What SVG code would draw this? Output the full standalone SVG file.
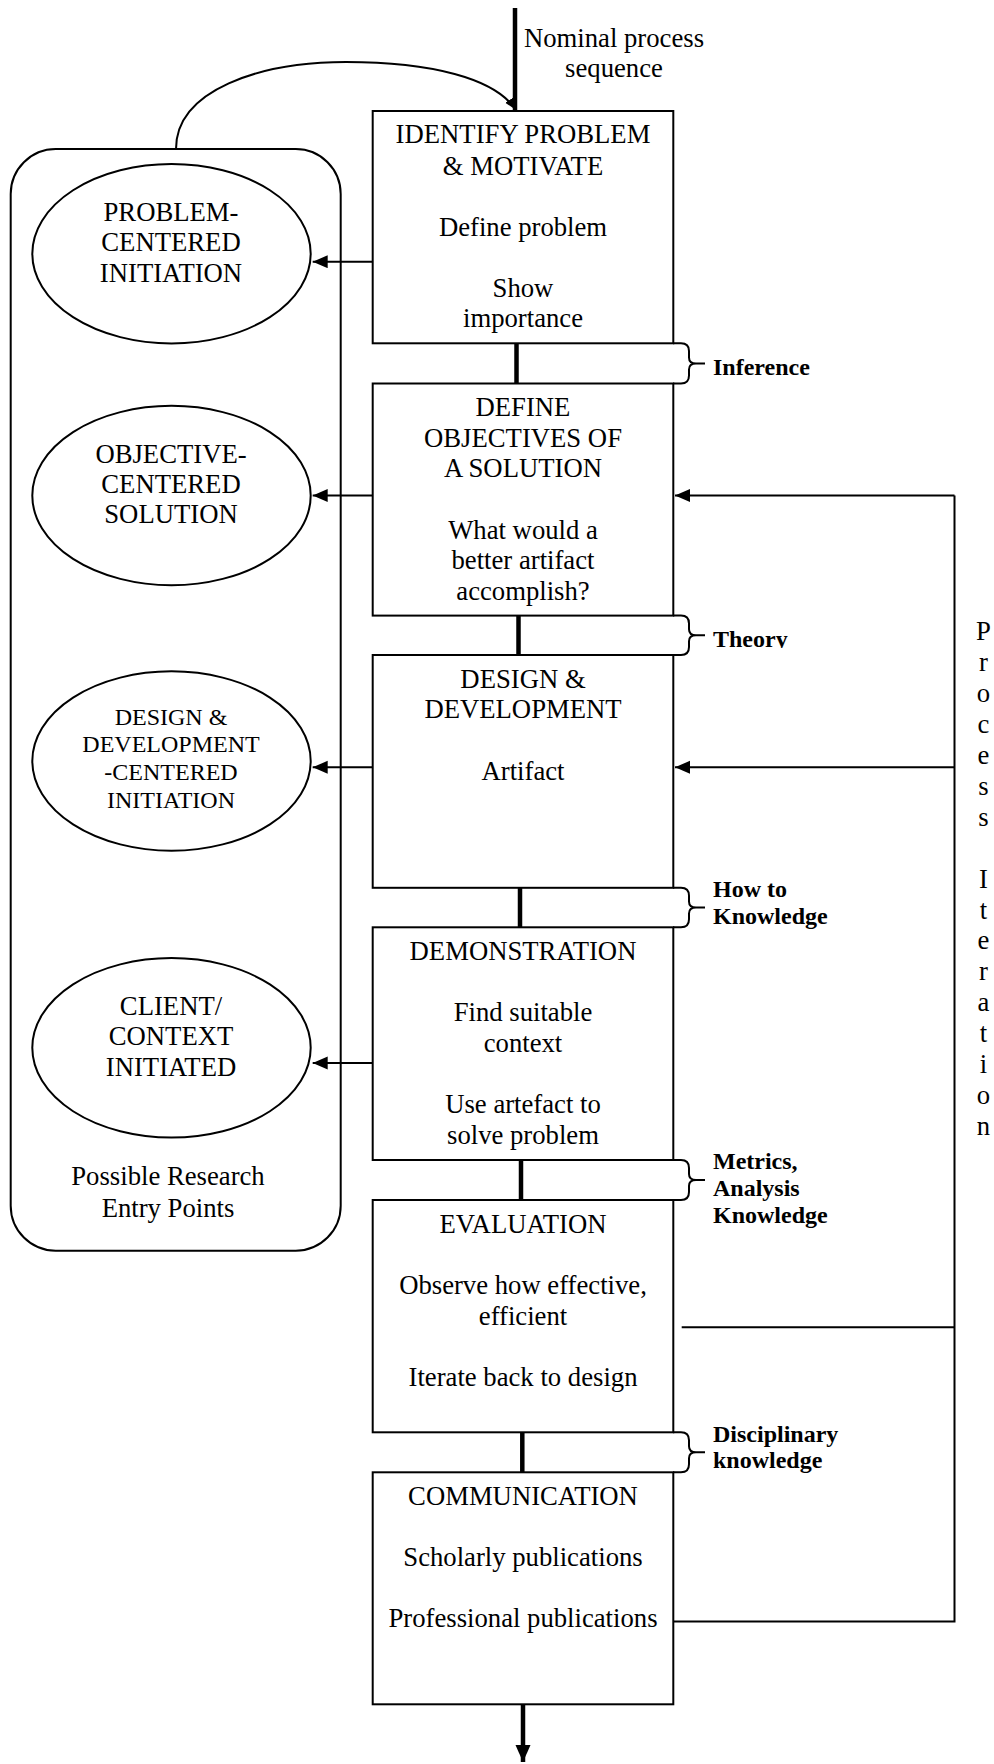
<svg xmlns="http://www.w3.org/2000/svg" width="994" height="1764" viewBox="0 0 994 1764">
<style>
.t{font-family:"Liberation Serif","Times New Roman",serif;font-size:26.7px;fill:#000;text-anchor:middle}
.s{font-family:"Liberation Serif","Times New Roman",serif;font-size:24px;fill:#000;text-anchor:middle}
.b{font-family:"Liberation Serif","Times New Roman",serif;font-size:24px;font-weight:bold;fill:#000}
.box{fill:#fff;stroke:#000;stroke-width:2}
.ell{fill:#fff;stroke:#000;stroke-width:2}
.ln{fill:none;stroke:#000;stroke-width:2}
.thick{fill:none;stroke:#000;stroke-width:4.5}
</style>
<defs>
<marker id="ah" markerUnits="userSpaceOnUse" markerWidth="16" markerHeight="14" refX="15" refY="6.5" orient="auto"><path d="M0,0 L15,6.5 L0,13 z" fill="#000"/></marker>
<marker id="ahs" markerUnits="userSpaceOnUse" markerWidth="14" markerHeight="12" refX="12" refY="5" orient="auto"><path d="M0,0 L12,5 L0,10 z" fill="#000"/></marker>
<marker id="ahb" markerUnits="userSpaceOnUse" markerWidth="18" markerHeight="16" refX="17" refY="7.5" orient="auto"><path d="M0,0 L17,7.5 L0,15 z" fill="#000"/></marker>
<clipPath id="clipTheory"><rect x="700" y="600" width="150" height="48"/></clipPath>
</defs>
<rect width="994" height="1764" fill="#fff"/>

<g id="entry-points">
<rect class="box" x="10.7" y="149" width="330" height="1101.7" rx="45" ry="45"/>
<text class="t" x="168" y="1185">Possible Research</text>
<text class="t" x="168" y="1216.5">Entry Points</text>
</g>

<g id="connectors">
<path class="thick" d="M515,8 V111"/>
<path class="ln" d="M176,149 C176,90 260,62 346,62 C430,62 495,78 516,110" marker-end="url(#ahs)"/>
<path class="thick" d="M516.5,343.3 V383.5"/>
<path class="thick" d="M518.5,615.6 V655"/>
<path class="thick" d="M520,887.8 V927.3"/>
<path class="thick" d="M521,1160 V1200"/>
<path class="thick" d="M522.3,1432.3 V1472.3"/>
<path class="thick" d="M523,1704.3 V1762" marker-end="url(#ahb)"/>
<line class="ln" x1="372.7" y1="261.7" x2="312.7" y2="261.7" marker-end="url(#ah)"/>
<line class="ln" x1="372.7" y1="495.5" x2="312.7" y2="495.5" marker-end="url(#ah)"/>
<line class="ln" x1="372.7" y1="767.3" x2="312.7" y2="767.3" marker-end="url(#ah)"/>
<line class="ln" x1="372.7" y1="1063" x2="312.7" y2="1063" marker-end="url(#ah)"/>
<path class="ln" d="M673.3,1621.6 H954.5 V495.5"/>
<line class="ln" x1="954.5" y1="495.5" x2="675" y2="495.5" marker-end="url(#ah)"/>
<line class="ln" x1="954.5" y1="767.3" x2="675" y2="767.3" marker-end="url(#ah)"/>
<line class="ln" x1="681.7" y1="1327.3" x2="954.5" y2="1327.3"/>
</g>

<g id="nominal-label">
<text class="t" x="614" y="46.7">Nominal process</text>
<text class="t" x="614" y="77">sequence</text>
</g>

<g id="braces">
<path class="ln" d="M673,343.3 H681 Q689,343.3 689,351 V357.4 Q689,363.4 696,363.4 H705 M696,363.4 Q689,363.4 689,369.4 V375.5 Q689,383.5 681,383.5 H673"/>
<path class="ln" d="M673,615.6 H681 Q689,615.6 689,623.6 V629.3 Q689,635.3 696,635.3 H705 M696,635.3 Q689,635.3 689,641.3 V647 Q689,655 681,655 H673"/>
<path class="ln" d="M673,887.8 H681 Q689,887.8 689,895.8 V901.5 Q689,907.5 696,907.5 H705 M696,907.5 Q689,907.5 689,913.5 V919.3 Q689,927.3 681,927.3 H673"/>
<path class="ln" d="M673,1160 H681 Q689,1160 689,1168 V1174 Q689,1180 696,1180 H705 M696,1180 Q689,1180 689,1186 V1192 Q689,1200 681,1200 H673"/>
<path class="ln" d="M673,1432.3 H681 Q689,1432.3 689,1440.3 V1446.3 Q689,1452.3 696,1452.3 H705 M696,1452.3 Q689,1452.3 689,1458.3 V1464.3 Q689,1472.3 681,1472.3 H673"/>
<text class="b" x="713" y="375">Inference</text>
<text class="b" x="713" y="646.7" clip-path="url(#clipTheory)">Theory</text>
<text class="b" x="713" y="896.5">How to</text>
<text class="b" x="713" y="923.5">Knowledge</text>
<text class="b" x="713" y="1169">Metrics,</text>
<text class="b" x="713" y="1196.3">Analysis</text>
<text class="b" x="713" y="1223.3">Knowledge</text>
<text class="b" x="713" y="1441.7">Disciplinary</text>
<text class="b" x="713" y="1468.3">knowledge</text>
</g>

<g id="process-iteration">
<text class="t" x="983.5">
<tspan x="983.5" y="640">P</tspan><tspan x="983.5" y="670.9">r</tspan><tspan x="983.5" y="701.9">o</tspan><tspan x="983.5" y="732.8">c</tspan><tspan x="983.5" y="763.8">e</tspan><tspan x="983.5" y="794.7">s</tspan><tspan x="983.5" y="825.6">s</tspan><tspan x="983.5" y="887.5">I</tspan><tspan x="983.5" y="918.5">t</tspan><tspan x="983.5" y="949.4">e</tspan><tspan x="983.5" y="980.3">r</tspan><tspan x="983.5" y="1011.3">a</tspan><tspan x="983.5" y="1042.2">t</tspan><tspan x="983.5" y="1073.1">i</tspan><tspan x="983.5" y="1104.1">o</tspan><tspan x="983.5" y="1135">n</tspan>
</text>
</g>

<g id="problem-centered">
<ellipse class="ell" cx="171.5" cy="253.7" rx="139.2" ry="89.7"/>
<text class="t" x="171" y="221">PROBLEM-</text>
<text class="t" x="171" y="251.3">CENTERED</text>
<text class="t" x="171" y="281.5">INITIATION</text>
</g>
<g id="objective-centered">
<ellipse class="ell" cx="171.5" cy="495.5" rx="139.2" ry="89.7"/>
<text class="t" x="171" y="462.5">OBJECTIVE-</text>
<text class="t" x="171" y="492.9">CENTERED</text>
<text class="t" x="171" y="523.3">SOLUTION</text>
</g>
<g id="design-centered">
<ellipse class="ell" cx="171.5" cy="761" rx="139.2" ry="89.7"/>
<text class="s" x="171" y="724.5">DESIGN &amp;</text>
<text class="s" x="171" y="752.2">DEVELOPMENT</text>
<text class="s" x="171" y="779.9">-CENTERED</text>
<text class="s" x="171" y="807.6">INITIATION</text>
</g>
<g id="client-initiated">
<ellipse class="ell" cx="171.5" cy="1047.8" rx="139.2" ry="89.7"/>
<text class="t" x="171" y="1015">CLIENT/</text>
<text class="t" x="171" y="1045.3">CONTEXT</text>
<text class="t" x="171" y="1076">INITIATED</text>
</g>

<g id="identify">
<rect class="box" x="372.7" y="111" width="300.6" height="232.3"/>
<text class="t" x="523" y="143.3">IDENTIFY PROBLEM</text>
<text class="t" x="523" y="174.5">&amp; MOTIVATE</text>
<text class="t" x="523" y="235.5">Define problem</text>
<text class="t" x="523" y="296.7">Show</text>
<text class="t" x="523" y="327">importance</text>
</g>
<g id="define-objectives">
<rect class="box" x="372.7" y="383.5" width="300.6" height="232.1"/>
<text class="t" x="523" y="415.8">DEFINE</text>
<text class="t" x="523" y="446.5">OBJECTIVES OF</text>
<text class="t" x="523" y="477.2">A SOLUTION</text>
<text class="t" x="523" y="538.6">What would a</text>
<text class="t" x="523" y="569.3">better artifact</text>
<text class="t" x="523" y="600">accomplish?</text>
</g>
<g id="design-development">
<rect class="box" x="372.7" y="655" width="300.6" height="232.8"/>
<text class="t" x="523" y="687.6">DESIGN &amp;</text>
<text class="t" x="523" y="718.3">DEVELOPMENT</text>
<text class="t" x="523" y="779.7">Artifact</text>
</g>
<g id="demonstration">
<rect class="box" x="372.7" y="927.3" width="300.6" height="232.7"/>
<text class="t" x="523" y="959.6">DEMONSTRATION</text>
<text class="t" x="523" y="1021">Find suitable</text>
<text class="t" x="523" y="1051.7">context</text>
<text class="t" x="523" y="1113.1">Use artefact to</text>
<text class="t" x="523" y="1143.8">solve problem</text>
</g>
<g id="evaluation">
<rect class="box" x="372.7" y="1200" width="300.6" height="232.3"/>
<text class="t" x="523" y="1232.8">EVALUATION</text>
<text class="t" x="523" y="1294">Observe how effective,</text>
<text class="t" x="523" y="1324.6">efficient</text>
<text class="t" x="523" y="1386.2">Iterate back to design</text>
</g>
<g id="communication">
<rect class="box" x="372.7" y="1472.3" width="300.6" height="232"/>
<text class="t" x="523" y="1504.6">COMMUNICATION</text>
<text class="t" x="523" y="1566">Scholarly publications</text>
<text class="t" x="523" y="1627.2">Professional publications</text>
</g>
</svg>
